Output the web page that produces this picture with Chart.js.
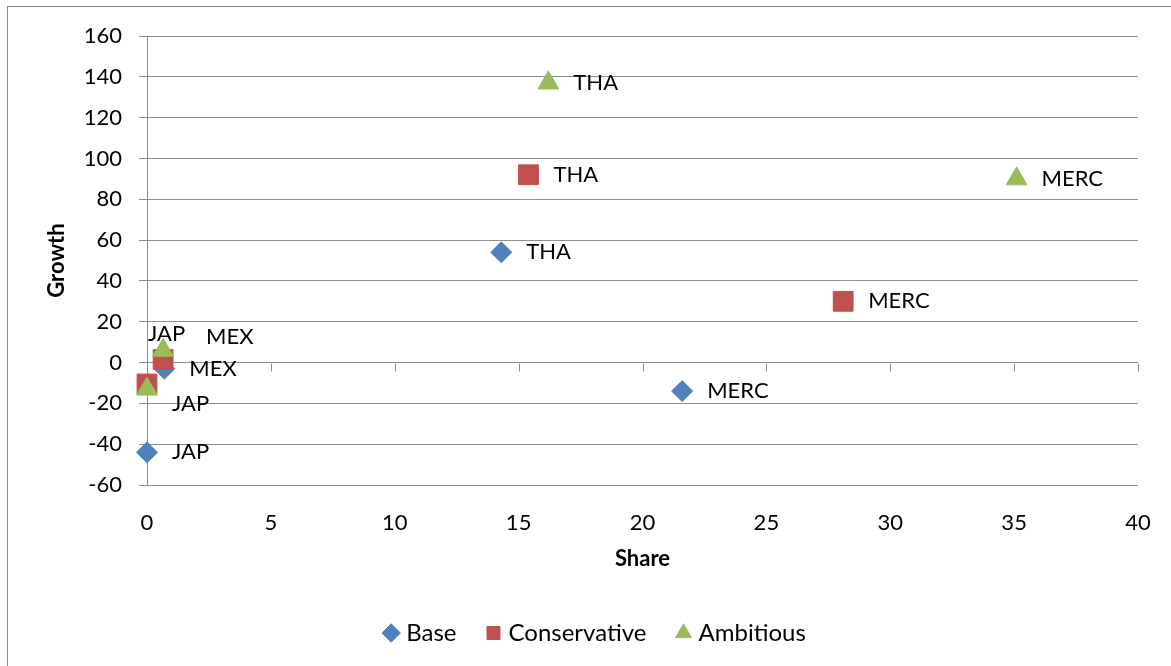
<!DOCTYPE html>
<html>
<head>
<meta charset="utf-8">
<script src="https://cdn.jsdelivr.net/npm/chart.js@4.4.0/dist/chart.umd.min.js"></script>
<style>
  html, body { margin: 0; padding: 0; background: #fff; }
  canvas { display: block; }
</style>
</head>
<body>
<canvas id="scatter" width="1171" height="666"></canvas>
<script>
// dữ liệu
const categories = ["JAP", "MEX", "THA", "MERC"];

const baseShare = [0, 0.7, 14.3, 21.6];
const baseGrowth = [-44, -3, 54, -14];

const consShare = [0, 0.65, 15.4, 28.1];
const consGrowth = [-10.5, 1.5, 92, 30];

const ambShare = [0, 0.65, 16.2, 35.1];
const ambGrowth = [-13, 6, 137, 90];

const xTicks = [0, 5, 10, 15, 20, 25, 30, 35, 40];
const yTicks = [-60, -40, -20, 0, 20, 40, 60, 80, 100, 120, 140, 160];

const FONT = "Lato, 'Open Sans', sans-serif";
const gridColor = "#8e8e8e";

const toPoints = (xs, ys) => xs.map((x, i) => ({ x: x, y: ys[i] }));

// khung ngoài của biểu đồ
const framePlugin = {
  id: "frame",
  beforeDraw(chart) {
    const { ctx } = chart;
    ctx.save();
    ctx.fillStyle = "#fff";
    ctx.fillRect(0, 0, chart.width, chart.height);
    ctx.strokeStyle = "#8a8a8a";
    ctx.lineWidth = 1;
    ctx.strokeRect(7.5, 6.5, chart.width + 20, chart.height + 20);
    ctx.restore();
  },
};

// trục x nằm ở y = 0, vạch chia hướng xuống
const zeroAxisPlugin = {
  id: "zeroAxis",
  beforeDatasetsDraw(chart) {
    const { ctx, scales } = chart;
    const y0 = Math.round(scales.y.getPixelForValue(0)) + 0.5;
    ctx.save();
    ctx.strokeStyle = gridColor;
    ctx.lineWidth = 1;
    ctx.beginPath();
    xTicks.forEach((v) => {
      const x = Math.round(scales.x.getPixelForValue(v)) + 0.5;
      ctx.moveTo(x, y0);
      ctx.lineTo(x, y0 + 8);
    });
    ctx.stroke();
    ctx.restore();
  },
};

// nhãn tên nước cạnh từng điểm
const labelPlugin = {
  id: "pointLabels",
  afterDatasetsDraw(chart, args, opts) {
    const { ctx } = chart;
    ctx.save();
    ctx.font = "22px " + FONT;
    ctx.fillStyle = "#000";
    ctx.textAlign = "left";
    ctx.textBaseline = "middle";
    chart.data.datasets.forEach((ds, di) => {
      chart.getDatasetMeta(di).data.forEach((pt, i) => {
        const row = opts.shift[di] || [];
        const off = row[i] === undefined ? [25, 0] : row[i];
        if (!off) return;
        ctx.fillText(categories[i], pt.x + off[0], pt.y + off[1]);
      });
    });
    ctx.restore();
  },
};

const ctx = document.getElementById("scatter").getContext("2d");

new Chart(ctx, {
  type: "scatter",
  data: {
    datasets: [
      {
        label: "Base",
        data: toPoints(baseShare, baseGrowth),
        pointStyle: "rectRot",
        pointRadius: 10.5,
        backgroundColor: "#4F81BD",
        borderColor: "#4F81BD",
        borderWidth: 1,
        clip: false,
        order: 3,
      },
      {
        label: "Conservative",
        data: toPoints(consShare, consGrowth),
        pointStyle: "rect",
        pointRadius: 14,
        backgroundColor: "#C0504D",
        borderColor: "#C0504D",
        borderWidth: 1,
        clip: false,
        order: 2,
      },
      {
        label: "Ambitious",
        data: toPoints(ambShare, ambGrowth),
        pointStyle: "triangle",
        pointRadius: 12,
        backgroundColor: "#9BBB59",
        borderColor: "#9BBB59",
        borderWidth: 1,
        clip: false,
        order: 1,
      },
    ],
  },
  options: {
    responsive: false,
    animation: false,
    layout: {
      padding: { top: 36, right: 33, bottom: 11, left: 56 },
    },
    plugins: {
      legend: {
        position: "bottom",
        labels: {
          usePointStyle: true,
          boxHeight: 13,
          boxWidth: 6,
          padding: 34,
          color: "#000",
          font: { size: 24, family: FONT },
          sort: (a, b) => a.datasetIndex - b.datasetIndex,
        },
      },
      tooltip: { enabled: false },
      pointLabels: {
        // [dx, dy] riêng cho cụm điểm chồng nhau gần gốc
        shift: [
          [],
          [[25, 20], null],
          [[1, -55], [43, -13]],
        ],
      },
    },
    scales: {
      x: {
        type: "linear",
        position: "bottom",
        min: xTicks[0],
        max: xTicks[xTicks.length - 1],
        afterBuildTicks: (scale) => {
          scale.ticks = xTicks.map((v) => ({ value: v }));
        },
        afterFit: (scale) => {
          scale.height = 102;
          scale.paddingLeft = 0;
          scale.paddingRight = 0;
        },
        grid: { display: false, drawTicks: false },
        border: { display: false },
        ticks: {
          padding: 25,
          color: "#000",
          font: { size: 22, family: FONT },
        },
        title: {
          display: true,
          text: "Share",
          color: "#000",
          padding: { top: 0, bottom: 15 },
          font: { size: 22, weight: "bold", family: FONT },
        },
      },
      y: {
        type: "linear",
        min: yTicks[0],
        max: yTicks[yTicks.length - 1],
        afterBuildTicks: (scale) => {
          scale.ticks = yTicks.map((v) => ({ value: v }));
        },
        afterFit: (scale) => {
          scale.width = 91;
        },
        grid: {
          color: gridColor,
          lineWidth: 1,
          drawTicks: true,
          tickLength: 8,
        },
        border: { display: true, color: gridColor, width: 1 },
        ticks: {
          padding: 17,
          color: "#000",
          font: { size: 22, family: FONT },
        },
        title: {
          display: true,
          text: "Growth",
          color: "#000",
          padding: { top: -12, bottom: 0 },
          font: { size: 22, weight: "bold", family: FONT },
        },
      },
    },
  },
  plugins: [framePlugin, zeroAxisPlugin, labelPlugin],
});
</script>
</body>
</html>
